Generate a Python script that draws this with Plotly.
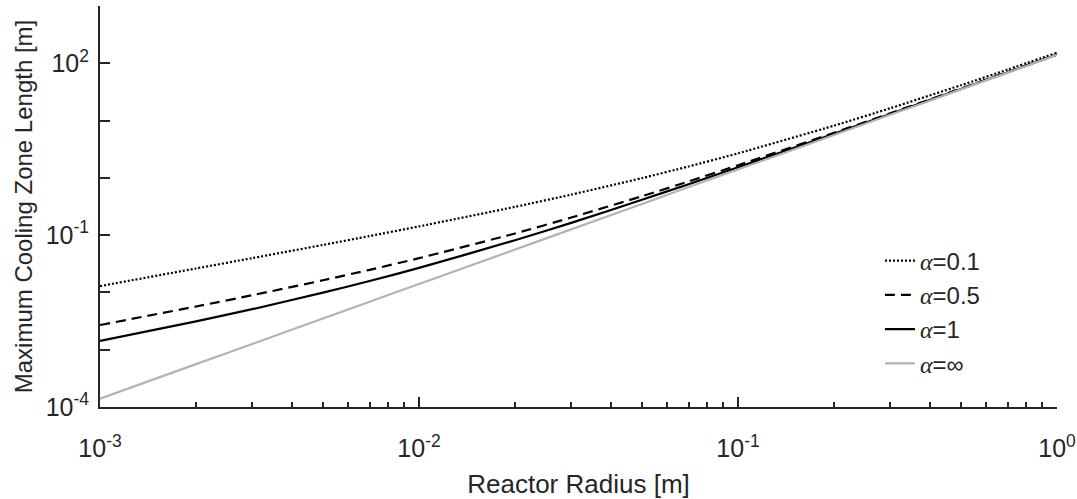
import plotly.graph_objects as go

# Reactor radius [m]
radius = [0.001, 0.002, 0.003, 0.005, 0.007, 0.01, 0.02, 0.03, 0.05, 0.07,
          0.1, 0.2, 0.3, 0.5, 0.7, 1.0]

# Maximum cooling zone length [m]
len_a01 = [0.0129, 0.0262, 0.0397, 0.0675, 0.0965, 0.142, 0.312, 0.51, 0.99, 1.58,
           2.68, 8.16, 16.4, 41.4, 77.6, 152.8]
len_a05 = [0.0027, 0.00568, 0.00894, 0.0163, 0.0248, 0.0396, 0.107, 0.203, 0.478, 0.865,
           1.66, 6.11, 13.4, 36.3, 70.4, 142.6]
len_a1 = [0.00142, 0.00312, 0.0051, 0.0099, 0.0158, 0.0268, 0.0816, 0.164, 0.414, 0.776,
          1.53, 5.86, 13.0, 35.6, 69.5, 141.3]
len_ainf = [0.00014, 0.00056, 0.00126, 0.0035, 0.0069, 0.014, 0.056, 0.126, 0.35, 0.69,
            1.4, 5.6, 12.6, 35.0, 68.6, 140.0]

series_names = ["=0.1", "=0.5", "=1", "=∞"]

x_tick_vals = [1e-3, 1e-2, 1e-1, 1e0]
x_tick_text = ["10<sup>-3</sup>", "10<sup>-2</sup>", "10<sup>-1</sup>", "10<sup>0</sup>"]
y_tick_vals = [1e-4, 1e-3, 1e-2, 1e-1, 1e0, 1e1, 1e2, 1e3]
y_tick_text = ["10<sup>-4</sup>", " ", " ", "10<sup>-1</sup>", " ", " ", "10<sup>2</sup>", " "]

FONT = "Liberation Sans, Arial, sans-serif"
AXC = "#262626"

alpha = "<span style=\"font-family:'Liberation Serif', serif\"><i>α</i></span>"

styles = [
    dict(color="black", width=2.2, dash="2px,2px"),
    dict(color="black", width=2.2, dash="10px,6px"),
    dict(color="black", width=2.2, dash="solid"),
    dict(color="#b3b3b3", width=2.2, dash="solid"),
]
data = [len_a01, len_a05, len_a1, len_ainf]

fig = go.Figure()
for name, ys, st in zip(series_names, data, styles):
    fig.add_trace(go.Scatter(x=radius, y=ys, mode="lines", name=alpha + name,
                             line=dict(shape="spline", smoothing=0.6, **st)))

minor_x = [m * d for d in (1e-3, 1e-2, 1e-1) for m in range(2, 10)]

fig.update_layout(
    width=1077, height=499,
    margin=dict(l=100, r=20, t=6, b=92),
    paper_bgcolor="white", plot_bgcolor="white",
    font=dict(family=FONT, size=24, color="#262626"),
    showlegend=True,
    legend=dict(x=0.815, y=0.42, xanchor="left", yanchor="top",
                bgcolor="rgba(255,255,255,0)", font=dict(size=24, color="#262626"),
                tracegroupgap=0),
    xaxis=dict(type="log", range=[-3, 0], showgrid=False, zeroline=False,
               automargin=False,
               showline=True, linecolor=AXC, linewidth=2, mirror=False,
               ticks="inside", ticklen=10, tickwidth=1.5, tickcolor=AXC,
               tickmode="array", tickvals=x_tick_vals, ticktext=x_tick_text,
               tickfont=dict(size=25), ticklabelstandoff=18,
               minor=dict(tickmode="array", tickvals=minor_x, ticks="inside",
                          ticklen=5, tickwidth=1.5, tickcolor=AXC, showgrid=False),
               title=dict(text="Reactor Radius [m]", font=dict(size=26), standoff=14)),
    yaxis=dict(type="log", range=[-4, 3], showgrid=False, zeroline=False,
               automargin=False,
               showline=True, linecolor=AXC, linewidth=2, mirror=False,
               ticks="inside", ticklen=10, tickwidth=1.5, tickcolor=AXC,
               tickmode="array", tickvals=y_tick_vals, ticktext=y_tick_text,
               tickfont=dict(size=25), ticklabelstandoff=4,
               title=dict(text="Maximum Cooling Zone Length [m]", font=dict(size=24),
                          standoff=6)),
)

fig.write_html("out.html",
               config={"displayModeBar": False},
               post_script="document.body.style.margin='0';document.body.style.overflow='hidden';")
